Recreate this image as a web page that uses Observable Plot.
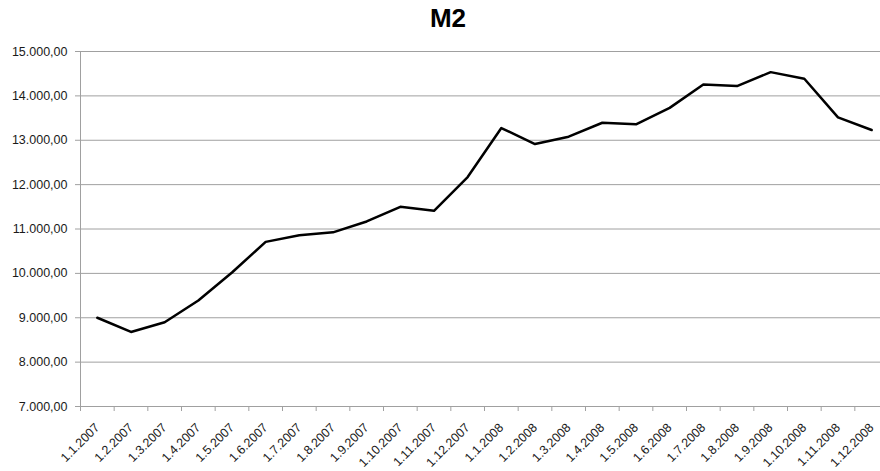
<!DOCTYPE html>
<html><head><meta charset="utf-8">
<script src="https://cdn.jsdelivr.net/npm/d3@7"></script>
<script src="https://cdn.jsdelivr.net/npm/@observablehq/plot@0.6"></script>
<style>
html,body{margin:0;padding:0;background:#fff;overflow:hidden;width:880px;height:471px;}
#wrap{position:relative;width:880px;height:471px;overflow:hidden;}
#title{position:absolute;left:0;width:896px;top:3px;line-height:30px;text-align:center;font:bold 26px "Liberation Sans",Arial,sans-serif;color:#000;}
#chart{position:absolute;left:0;top:0;}
</style></head><body><div id="wrap"><div id="chart"></div><div id="title">M2</div></div>
<script>
const dates = ["1.1.2007","1.2.2007","1.3.2007","1.4.2007","1.5.2007","1.6.2007","1.7.2007","1.8.2007","1.9.2007","1.10.2007","1.11.2007","1.12.2007",
  "1.1.2008","1.2.2008","1.3.2008","1.4.2008","1.5.2008","1.6.2008","1.7.2008","1.8.2008","1.9.2008","1.10.2008","1.11.2008","1.12.2008"];
const values = [9000,8680,8900,9390,10020,10710,10860,10925,11170,11500,11410,12170,
  13275,12915,13080,13395,13360,13730,14255,14220,14535,14385,13515,13230];
const yTicks = [7000,8000,9000,10000,11000,12000,13000,14000,15000];

const fmt = d3.formatLocale({decimal:",",thousands:".",grouping:[3],currency:["",""]}).format(",.2f");
const data = dates.map((d,i)=>({pos:i+0.5, label:d, value:values[i]}));
const boundaries = d3.range(0, dates.length+1);

const chart = Plot.plot({
  width: 880, height: 471,
  marginLeft: 80, marginRight: -8, marginTop: 51, marginBottom: 65,
  style: {fontFamily: "'Liberation Sans', Arial, sans-serif", fontSize: "12px", color: "#1a1a1a", background: "transparent"},
  x: {type: "linear", domain: [0, dates.length], axis: null},
  y: {domain: [7000, 15000], axis: null},
  marks: [
    Plot.ruleY(yTicks, {stroke: "#a0a0a0", strokeWidth: 1}),
    Plot.ruleX([0], {stroke: "#a0a0a0", strokeWidth: 1}),
    Plot.axisY({ticks: yTicks, tickFormat: fmt, tickSize: 5, tickPadding: 8, stroke: "#a0a0a0", fill: "#1a1a1a", fontSize: 12.5, label: null}),
    Plot.axisX({ticks: boundaries, tickFormat: () => "", tickSize: 5, stroke: "#a0a0a0", label: null}),
    Plot.axisX({ticks: data.map(d => d.pos), tickFormat: v => dates[Math.floor(v)], tickSize: 0, tickPadding: 19, tickRotate: -45, fill: "#1a1a1a", fontSize: 12.5, label: null}),
    Plot.line(data, {x: "pos", y: "value", stroke: "#000", strokeWidth: 2.5})
  ]
});
document.getElementById("chart").appendChild(chart);
</script>
</body></html>
